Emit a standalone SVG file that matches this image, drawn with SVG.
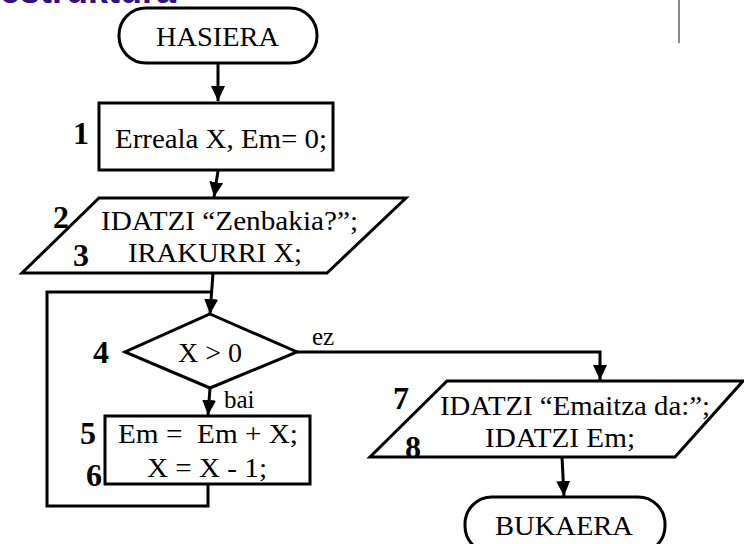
<svg xmlns="http://www.w3.org/2000/svg" width="744" height="544" viewBox="0 0 744 544">
<defs>
<style>
.s{fill:#fff;stroke:#000;stroke-width:3}
.c{fill:none;stroke:#000;stroke-width:3}
.t{font-family:"Liberation Serif","Times New Roman",serif;font-size:27px;fill:#000;white-space:pre}
.n{font-family:"Liberation Serif","Times New Roman",serif;font-size:32px;font-weight:bold;fill:#000}
.l{font-family:"Liberation Serif","Times New Roman",serif;font-size:25px;fill:#000}
</style>
<marker id="ah" markerUnits="userSpaceOnUse" markerWidth="15" markerHeight="16" refX="15" refY="7" orient="auto">
<path d="M0,0 L15,7 L0,14 Z" fill="#000"/>
</marker>
</defs>
<rect width="744" height="544" fill="#fff"/>
<text x="176" y="3" text-anchor="end" style="font-family:'Liberation Sans',Arial,sans-serif;font-size:36px;font-weight:bold;fill:#33107a">estruktura</text>
<line x1="679" y1="0" x2="679" y2="43" stroke="#888" stroke-width="2"/>

<g id="connectors">
<line class="c" x1="218" y1="63" x2="218" y2="101" marker-end="url(#ah)"/>
<line class="c" x1="218" y1="171" x2="214" y2="197" marker-end="url(#ah)"/>
<line class="c" x1="213" y1="273" x2="210" y2="314" marker-end="url(#ah)"/>
<polyline class="c" points="208,484 208,506 47,506 47,292 211,292"/>
<line class="c" x1="210" y1="388" x2="208" y2="415" marker-end="url(#ah)"/>
<polyline class="c" points="297,352 600,352 600,380" marker-end="url(#ah)"/>
<line class="c" x1="562" y1="457" x2="564" y2="496" marker-end="url(#ah)"/>
<text class="l" x="312" y="345">ez</text>
<text class="l" x="224" y="408">bai</text>
</g>

<g id="hasiera">
<rect class="s" x="119" y="8" width="198" height="55" rx="27" ry="27"/>
<text class="t" x="156" y="46" textLength="123" lengthAdjust="spacingAndGlyphs">HASIERA</text>
</g>

<g id="n1">
<rect class="s" x="99" y="103" width="234" height="67"/>
<text class="t" x="115" y="148" textLength="212" lengthAdjust="spacingAndGlyphs">Erreala X, Em= 0;</text>
<text class="n" x="73" y="144">1</text>
</g>

<g id="n23">
<polygon class="s" points="99,198 406,198 327,273 22,273"/>
<text class="t" x="101" y="230" textLength="257" lengthAdjust="spacingAndGlyphs">IDATZI “Zenbakia?”;</text>
<text class="t" x="128" y="262" textLength="174" lengthAdjust="spacingAndGlyphs">IRAKURRI X;</text>
<text class="n" x="53" y="228">2</text>
<text class="n" x="73" y="266">3</text>
</g>

<g id="n4">
<polygon class="s" points="210,314 297,352 210,388 125,352"/>
<text class="t" x="178" y="362" textLength="64" lengthAdjust="spacingAndGlyphs">X &gt; 0</text>
<text class="n" x="93" y="363">4</text>
</g>

<g id="n56">
<rect class="s" x="105" y="416" width="205" height="68"/>
<text class="t" x="118" y="443" textLength="180" lengthAdjust="spacingAndGlyphs">Em =  Em + X;</text>
<text class="t" x="147" y="477" textLength="120" lengthAdjust="spacingAndGlyphs">X = X - 1;</text>
<text class="n" x="80" y="444">5</text>
<text class="n" x="86" y="486">6</text>
</g>

<g id="n78">
<polygon class="s" points="447,381 743,381 675,457 370,457"/>
<text class="t" x="440" y="415" textLength="270" lengthAdjust="spacingAndGlyphs">IDATZI “Emaitza da:”;</text>
<text class="t" x="485" y="447" textLength="150" lengthAdjust="spacingAndGlyphs">IDATZI Em;</text>
<text class="n" x="393" y="409">7</text>
<text class="n" x="405" y="458">8</text>
</g>

<g id="bukaera">
<rect class="s" x="465" y="497" width="200" height="56" rx="27" ry="27"/>
<text class="t" x="495" y="535" textLength="138" lengthAdjust="spacingAndGlyphs">BUKAERA</text>
</g>
</svg>
